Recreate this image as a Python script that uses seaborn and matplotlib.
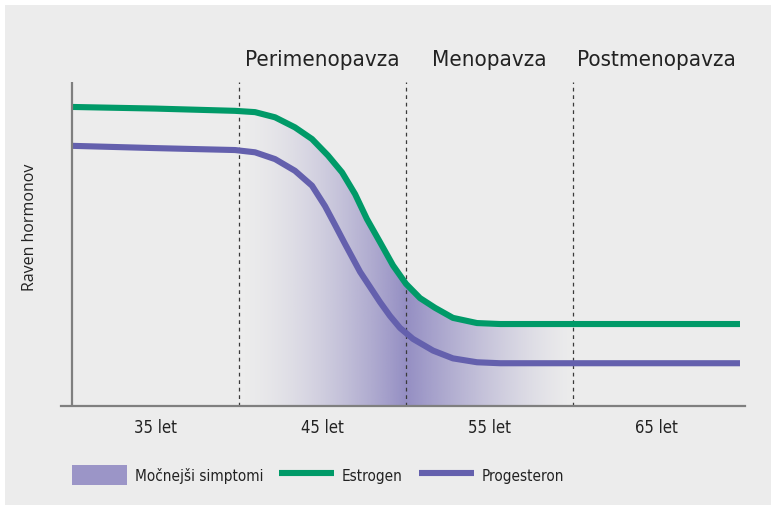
import numpy as np
import matplotlib
matplotlib.use("Agg")
import matplotlib.pyplot as plt
from matplotlib.patches import Patch, Rectangle
from matplotlib.lines import Line2D
import seaborn as sns

# Values (age in years, relative hormone level 0-100)
estrogen_age = [30.0, 34.97, 39.76, 40.96, 42.16, 43.35, 44.37, 45.33, 46.17, 46.95, 47.66,
                48.44, 49.22, 50.0, 50.84, 51.74, 52.81, 54.25, 55.63, 70.0]
estrogen_level = [92.3, 91.8, 91.1, 90.7, 89.1, 86.0, 82.4, 77.3, 72.1, 65.4, 57.7,
                  50.6, 43.4, 37.7, 33.3, 30.3, 27.2, 25.6, 25.3, 25.3]

progesterone_age = [30.0, 34.97, 39.76, 40.96, 42.16, 43.35, 44.37, 45.15, 45.75, 46.35, 47.25,
                    48.44, 49.04, 49.64, 50.42, 51.62, 52.81, 54.25, 55.63, 70.0]
progesterone_level = [80.3, 79.6, 79.0, 78.3, 76.2, 72.6, 68.0, 61.7, 55.9, 50.0, 41.4,
                      32.1, 27.8, 24.1, 20.7, 17.1, 14.7, 13.5, 13.2, 13.2]

tick_ages = [35, 45, 55, 65]
tick_labels = ["35 let", "45 let", "55 let", "65 let"]
phase_bounds = [40, 50, 60]
phase_names = ["Perimenopavza", "Menopavza", "Postmenopavza"]
phase_centers = [45, 55, 65]

GREEN = "#009a68"
PURPLE = "#6460ad"
SHADE = "#948ec3"
BG = "#ececec"

sns.set_theme(style="white")
plt.rcParams["font.family"] = ["DejaVu Sans"]
plt.rcParams["font.stretch"] = "condensed"

fig = plt.figure(figsize=(7.76, 5.06), dpi=100, facecolor="white")
# grey panel behind everything
fig.patches.append(Rectangle((5 / 776, 0), 766 / 776, 500 / 506, transform=fig.transFigure,
                             facecolor=BG, edgecolor="none", zorder=-10))

ax = fig.add_axes([61 / 776, 99 / 506, 684 / 776, 324 / 506])
ax.set_facecolor("none")

# shaded "stronger symptoms" band: horizontal gradient under the estrogen curve
shade_rgb = np.array(matplotlib.colors.to_rgb(SHADE))
xs = np.linspace(40, 60, 400)
alpha = np.where(xs < 50, ((xs - 40) / 10) ** 1.6, (1 - (xs - 50) / 10) ** 1.3)
grad = np.zeros((2, len(xs), 4))
grad[..., :3] = shade_rgb
grad[..., 3] = alpha
im = ax.imshow(grad, extent=[40, 60, 0, 100], aspect="auto", origin="lower", zorder=1,
               interpolation="bilinear")
poly = ax.fill_between(estrogen_age, estrogen_level, 0, facecolor="none", edgecolor="none")
im.set_clip_path(poly.get_paths()[0], transform=ax.transData)

# phase separators
for b in phase_bounds:
    ax.axvline(b, color="#3a3a3a", linestyle=(0, (3, 3)), linewidth=0.9, zorder=2)

# hormone curves
sns.lineplot(x=estrogen_age, y=estrogen_level, ax=ax, color=GREEN, linewidth=4.4,
             legend=False, zorder=4, solid_capstyle="butt", solid_joinstyle="round")
sns.lineplot(x=progesterone_age, y=progesterone_level, ax=ax, color=PURPLE, linewidth=4.4,
             legend=False, zorder=3, solid_capstyle="butt", solid_joinstyle="round")

# axes lines
ax.axvline(30, color="#7f7f7f", linewidth=1.6, zorder=5)
ax.set_xlim(29.34, 70.3)
ax.set_ylim(0, 100)
for side in ["left", "right", "top"]:
    ax.spines[side].set_visible(False)
ax.spines["bottom"].set_color("#7f7f7f")
ax.spines["bottom"].set_linewidth(1.6)

ax.set_xticks(tick_ages)
ax.set_xticklabels(tick_labels, fontsize=12, color="#222222")
ax.tick_params(axis="x", length=0, pad=9)
ax.set_yticks([])
ax.set_xlabel("")
ax.set_ylabel("")

# phase headers
for c, name in zip(phase_centers, phase_names):
    ax.text(c, 1.072, name, transform=ax.get_xaxis_transform(), ha="center", va="center",
            fontsize=16, color="#222222")

# y label
fig.text(30 / 776, 1 - 227 / 506, "Raven hormonov", rotation=90, ha="center", va="center",
         fontsize=11.5, family=["Open Sans", "DejaVu Sans"], fontstretch="normal",
         color="#222222")

# legend
handles = [
    Patch(facecolor="#9b95c7", edgecolor="none"),
    Line2D([0], [0], color=GREEN, linewidth=4.4, solid_capstyle="butt"),
    Line2D([0], [0], color=PURPLE, linewidth=4.4, solid_capstyle="butt"),
]
labels = ["Močnejši simptomi", "Estrogen", "Progesteron"]
fig.legend(handles, labels, loc="center left", bbox_to_anchor=(72 / 776, 1 - 476 / 506),
           ncol=3, frameon=False, fontsize=11, handlelength=3.6, handleheight=1.6,
           handletextpad=0.5, columnspacing=1.05, borderpad=0, borderaxespad=0,
           labelcolor="#222222")

fig.savefig("out.png", dpi=100, facecolor="white")
